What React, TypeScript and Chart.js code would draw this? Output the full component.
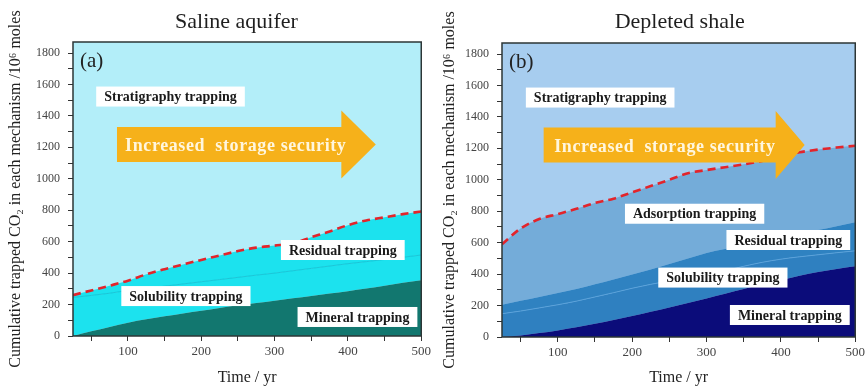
import React, { useEffect, useRef } from 'react';
import { Chart, registerables } from 'chart.js';

Chart.register(...registerables);

// ---- data (cumulative boundaries, 10^6 moles) ----
const years = [25, 50, 75, 100, 125, 150, 175, 200, 225, 250, 275, 300, 325, 350, 375, 400, 425, 450, 475, 500];

const salineMineralTop = [0, 30, 58, 85, 106, 125, 143, 160, 178, 195, 210, 225, 240, 255, 270, 285, 302, 320, 338, 355];
const salineSolubilityTop = [245, 258, 272, 290, 303, 317, 331, 345, 359, 373, 387, 400, 415, 430, 445, 460, 473, 487, 501, 515];
const salineResidualTop = [260, 290, 320, 352, 392, 425, 455, 484, 512, 540, 562, 575, 590, 628, 665, 705, 735, 755, 775, 792];

const shaleMineralTop = [0, 10, 25, 42, 62, 84, 108, 133, 160, 188, 216, 245, 275, 305, 335, 362, 390, 413, 433, 450];
const shaleSolubilityTop = [148, 165, 185, 205, 228, 255, 282, 310, 335, 357, 377, 397, 422, 450, 475, 495, 510, 523, 536, 548];
const shaleResidualTop = [205, 230, 255, 280, 305, 335, 365, 398, 430, 465, 500, 535, 560, 583, 607, 630, 655, 680, 705, 730];
const shaleAdsorptionTop = [590, 690, 750, 782, 815, 852, 880, 920, 960, 1000, 1042, 1062, 1080, 1098, 1120, 1150, 1175, 1192, 1205, 1216];

const xMin = 25;
const xMax = 500;
const yMin = 0;
const yMax = 1870;

const SERIF = '"Liberation Serif", "Times New Roman", "DejaVu Serif", serif';
const RED = '#e3242b';

type Layer = { data: number[]; fill: string; line?: string; lineWidth?: number; dash?: number[] };
type Label = { text: string; x: number; y: number };
type Panel = {
  title: string;
  titleX: number;
  tag: string;
  bg: string;
  layers: Layer[];
  labels: Label[];
  arrow: { x0: number; x1: number; x2: number; y: number; textX: number };
  padTop: number;
  axisW: number;
  axisH: number;
};

const salinePanel: Panel = {
  title: 'Saline aquifer',
  titleX: 248,
  tag: '(a)',
  bg: '#b3eef9',
  layers: [
    { data: salineMineralTop, fill: '#12776f' },
    { data: salineSolubilityTop, fill: '#1ce2ee', line: '#10bfd2', lineWidth: 0.8 },
    { data: salineResidualTop, fill: '#1ce2ee', line: RED, lineWidth: 2.6, dash: [8, 5] },
  ],
  labels: [
    { text: 'Stratigraphy trapping', x: 158, y: 1523 },
    { text: 'Residual trapping', x: 393, y: 547 },
    { text: 'Solubility trapping', x: 179, y: 254 },
    { text: 'Mineral trapping', x: 413, y: 121 },
  ],
  arrow: { x0: 85, x1: 391, x2: 438, y: 1218, textX: 247 },
  padTop: 42,
  axisW: 73,
  axisH: 54,
};

const shalePanel: Panel = {
  title: 'Depleted shale',
  titleX: 264,
  tag: '(b)',
  bg: '#a7cdef',
  layers: [
    { data: shaleMineralTop, fill: '#0b0c7a' },
    { data: shaleSolubilityTop, fill: '#2f80c0', line: '#5ea4db', lineWidth: 0.9 },
    { data: shaleResidualTop, fill: '#2f82c1' },
    { data: shaleAdsorptionTop, fill: '#74acd9', line: RED, lineWidth: 2.6, dash: [8, 5] },
  ],
  labels: [
    { text: 'Stratigraphy trapping', x: 157, y: 1523 },
    { text: 'Adsorption trapping', x: 284, y: 784 },
    { text: 'Residual trapping', x: 410, y: 617 },
    { text: 'Solubility trapping', x: 322, y: 378 },
    { text: 'Mineral trapping', x: 412, y: 140 },
  ],
  arrow: { x0: 81, x1: 393, x2: 432, y: 1221, textX: 244 },
  padTop: 43,
  axisW: 68,
  axisH: 53,
};

const decorPlugin = {
  id: 'decor',
  beforeDraw(chart: any, _args: any, opts: any) {
    const { ctx, chartArea: a } = chart;
    ctx.save();
    ctx.fillStyle = opts.bg;
    ctx.fillRect(a.left, a.top, a.right - a.left, a.bottom - a.top);
    ctx.restore();
  },
  afterDraw(chart: any, _args: any, opts: any) {
    const { ctx, chartArea: a, scales } = chart;
    const sx = scales.x;
    const sy = scales.y;
    const p: Panel = opts.panel;
    ctx.save();

    // frame
    ctx.strokeStyle = '#2c3636';
    ctx.lineWidth = 1.5;
    ctx.strokeRect(a.left, a.top, a.right - a.left, a.bottom - a.top);

    // title
    ctx.fillStyle = '#1f1f1f';
    ctx.font = `22px ${SERIF}`;
    ctx.textAlign = 'center';
    ctx.textBaseline = 'middle';
    ctx.fillText(p.title, sx.getPixelForValue(p.titleX), 22);

    // tag
    ctx.font = `21px ${SERIF}`;
    ctx.textAlign = 'left';
    ctx.fillStyle = '#222';
    ctx.fillText(p.tag, a.left + 7, a.top + 19);

    // arrow
    const ar = p.arrow;
    const yc = sy.getPixelForValue(ar.y);
    const X0 = sx.getPixelForValue(ar.x0);
    const X1 = sx.getPixelForValue(ar.x1);
    const X2 = sx.getPixelForValue(ar.x2);
    ctx.fillStyle = '#f6b11a';
    ctx.beginPath();
    ctx.moveTo(X0, yc - 17.5);
    ctx.lineTo(X1, yc - 17.5);
    ctx.lineTo(X1, yc - 34);
    ctx.lineTo(X2, yc);
    ctx.lineTo(X1, yc + 34);
    ctx.lineTo(X1, yc + 17.5);
    ctx.lineTo(X0, yc + 17.5);
    ctx.closePath();
    ctx.fill();
    ctx.fillStyle = '#fff6de';
    ctx.font = `bold 18px ${SERIF}`;
    ctx.textAlign = 'center';
    (ctx as any).letterSpacing = '0.6px';
    ctx.fillText('Increased  storage security', sx.getPixelForValue(ar.textX), yc + 2);
    (ctx as any).letterSpacing = '0px';

    // labels in white boxes
    ctx.font = `bold 14px ${SERIF}`;
    for (const l of p.labels) {
      const cx = sx.getPixelForValue(l.x);
      const cy = sy.getPixelForValue(l.y);
      const w = ctx.measureText(l.text).width + 16;
      const h = 20;
      ctx.fillStyle = '#ffffff';
      ctx.fillRect(cx - w / 2, cy - h / 2, w, h);
      ctx.fillStyle = '#1a1a1a';
      ctx.textAlign = 'center';
      ctx.fillText(l.text, cx, cy + 1);
    }
    ctx.restore();
  },
};

function buildConfig(p: Panel): any {
  const datasets = p.layers.map((layer, i) => ({
    data: years.map((x, k) => ({ x, y: layer.data[k] })),
    fill: i === 0 ? 'origin' : '-1',
    backgroundColor: layer.fill,
    borderColor: layer.line || 'rgba(0,0,0,0)',
    borderWidth: layer.line ? layer.lineWidth : 0,
    borderDash: layer.dash || [],
    pointRadius: 0,
    cubicInterpolationMode: 'monotone',
  }));
  return {
    type: 'line',
    data: { datasets },
    plugins: [decorPlugin],
    options: {
      responsive: false,
      animation: false,
      events: [],
      layout: { padding: { top: p.padTop, right: 11, left: 0, bottom: 0 } },
      plugins: {
        legend: { display: false },
        tooltip: { enabled: false },
        filler: { drawTime: 'beforeDatasetsDraw' },
        decor: { bg: p.bg, panel: p },
      },
      scales: {
        x: {
          type: 'linear',
          min: xMin,
          max: xMax,
          afterFit: (s: any) => { s.height = p.axisH; },
          border: { display: false },
          grid: { drawOnChartArea: false, drawTicks: true, tickLength: 5, tickColor: '#333' },
          ticks: {
            stepSize: 50,
            includeBounds: false,
            autoSkip: false,
            maxRotation: 0,
            padding: 3,
            color: '#444',
            font: { family: SERIF, size: 13 },
            callback: (v: number) => (v % 100 === 0 ? String(v) : ''),
          },
          title: {
            display: true,
            text: 'Time / yr',
            color: '#222',
            font: { family: SERIF, size: 16 },
            padding: { top: 0, bottom: 3 },
          },
        },
        y: {
          type: 'linear',
          min: yMin,
          max: yMax,
          afterFit: (s: any) => { s.width = p.axisW; },
          border: { display: false },
          grid: { drawOnChartArea: false, drawTicks: true, tickLength: 5, tickColor: '#333' },
          ticks: {
            stepSize: 100,
            includeBounds: false,
            autoSkip: false,
            padding: 8,
            color: '#444',
            font: { family: SERIF, size: 12 },
            callback: (v: number) => (v % 200 === 0 ? String(v) : ''),
          },
          title: {
            display: true,
            text: 'Cumulative trapped CO₂ in each mechanism /10⁶ moles',
            color: '#222',
            font: { family: SERIF, size: 16 },
            padding: { top: 6, bottom: 0 },
          },
        },
      },
    },
  };
}

function PanelChart({ panel, left }: { panel: Panel; left: number }) {
  const ref = useRef<HTMLCanvasElement>(null);
  useEffect(() => {
    const chart = new Chart(ref.current as HTMLCanvasElement, buildConfig(panel));
    return () => chart.destroy();
  }, [panel]);
  return (
    <canvas
      ref={ref}
      width={434}
      height={390}
      style={{ position: 'absolute', left, top: 0, width: 434, height: 390, display: 'block' }}
    />
  );
}

export default function App() {
  return (
    <div style={{ position: 'absolute', left: 0, top: 0, width: 868, height: 390, background: '#ffffff', overflow: 'hidden' }}>
      <PanelChart panel={salinePanel} left={0} />
      <PanelChart panel={shalePanel} left={434} />
    </div>
  );
}
